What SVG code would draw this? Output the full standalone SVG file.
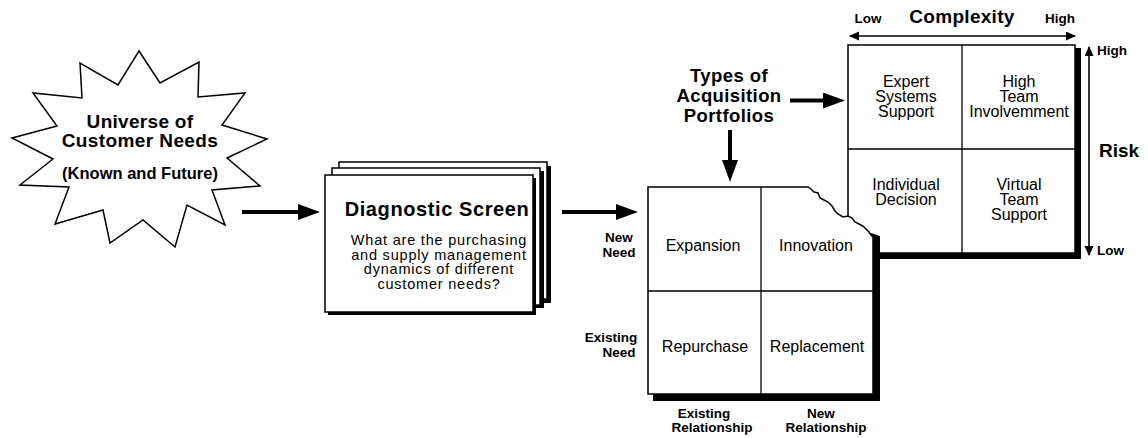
<svg xmlns="http://www.w3.org/2000/svg" width="1148" height="438" viewBox="0 0 1148 438">
<defs>
<style>
text{font-family:"Liberation Sans",Arial,Helvetica,sans-serif;fill:#000;text-anchor:middle}
.b{font-weight:bold}
.t19{font-size:19px;font-weight:bold}
.t14{font-size:13.5px;font-weight:bold}
.r16{font-size:16px}
.r15{font-size:14.5px;letter-spacing:0.8px}
.box{fill:#fff;stroke:#000;stroke-width:1.5}
.grid{stroke:#000;stroke-width:1.3;fill:none}
.shadow{fill:#000}
.thick{stroke:#000;stroke-width:4;fill:none}
.thin{stroke:#000;stroke-width:1.6;fill:none}
</style>
<marker id="ah" markerUnits="userSpaceOnUse" markerWidth="24" markerHeight="18" refX="0" refY="8" orient="auto">
<path d="M0,0 L22,8 L0,16 Z" fill="#000"/>
</marker>
<marker id="sh" markerUnits="userSpaceOnUse" markerWidth="12" markerHeight="10" refX="9" refY="4.5" orient="auto-start-reverse">
<path d="M0,0 L10,4.5 L0,9 Z" fill="#000"/>
</marker>
</defs>
<rect width="1148" height="438" fill="#fff"/>

<g id="universe">
<polygon class="box" points="139,51 160,83 199,62 198,97 245,93 222,125 267,139 227,158 260,186 212,190 225,225 187,205 175,247 143,220 110,243 103,210 55,224 69,187 20,185 53,159 12,138 57,126 33,93 82,98 80,63 118,85"/>
<text class="t19" x="140" y="128" letter-spacing="0.3">Universe of</text>
<text class="t19" x="140" y="147" letter-spacing="0.4">Customer Needs</text>
<text class="b" x="140" y="179" font-size="16.5">(Known and Future)</text>
</g>

<g id="diagnostic">
<rect class="shadow" x="343" y="166" width="208" height="137"/>
<rect class="box" x="339" y="162" width="208" height="137"/>
<rect class="shadow" x="336" y="171" width="208" height="137"/>
<rect class="box" x="332" y="168" width="208" height="137"/>
<rect class="shadow" x="328" y="178" width="208" height="137"/>
<rect class="box" x="325" y="175" width="208" height="137"/>
<text class="b" x="437" y="216" font-size="20" letter-spacing="0.6">Diagnostic Screen</text>
<text class="r15" x="439" y="245">What are the purchasing</text>
<text class="r15" x="439" y="259.5">and supply management</text>
<text class="r15" x="439" y="274">dynamics of different</text>
<text class="r15" x="439" y="288.5">customer needs?</text>
</g>

<g id="types-label">
<text class="b" x="729" y="82" font-size="18.5" letter-spacing="0.4">Types of</text>
<text class="b" x="729" y="102" font-size="18.5" letter-spacing="0.4">Acquisition</text>
<text class="b" x="729" y="122" font-size="18.5" letter-spacing="0.4">Portfolios</text>
</g>

<g id="team-matrix">
<path class="shadow" d="M1075,48 L1081,48 L1081,259 L873,259 L873,253 L1075,253 Z"/>
<rect class="box" x="848" y="45" width="227" height="208"/>
<line class="grid" x1="962" y1="45" x2="962" y2="253"/>
<line class="grid" x1="848" y1="149" x2="1075" y2="149"/>
<text class="r16" x="906" y="87">Expert</text>
<text class="r16" x="906" y="102">Systems</text>
<text class="r16" x="906" y="117">Support</text>
<text class="r16" x="1019" y="87">High</text>
<text class="r16" x="1019" y="102">Team</text>
<text class="r16" x="1019" y="117">Involvemment</text>
<text class="r16" x="906" y="190">Individual</text>
<text class="r16" x="906" y="205">Decision</text>
<text class="r16" x="1019" y="190">Virtual</text>
<text class="r16" x="1019" y="205">Team</text>
<text class="r16" x="1019" y="220">Support</text>
</g>

<g id="complexity-axis">
<text class="t14" x="868" y="23">Low</text>
<text class="b" x="962" y="23" font-size="19" letter-spacing="0.3">Complexity</text>
<text class="t14" x="1060" y="23">High</text>
</g>

<g id="risk-axis">
<text class="t14" x="1097" y="55" style="text-anchor:start">High</text>
<text class="b" x="1099" y="157" font-size="19" style="text-anchor:start">Risk</text>
<text class="t14" x="1097" y="255" style="text-anchor:start">Low</text>
</g>

<g id="portfolio-matrix">
<path class="shadow" d="M871,233 L880,236 L880,401 L653,401 L653,394 L873,394 Z"/>
<path class="box" d="M648,187 L808,187 L811,189 L814,192 L818,193 L820,198 L824,200 L828,202 L832,206 L835,211 L838,214 L843,217 L848,216 L852,218 L855,222 L859,224 L863,226 L866,229 L869,232 L871,235 L873,237 L873,394 L648,394 Z"/>
<line class="grid" x1="761" y1="187" x2="761" y2="394"/>
<line class="grid" x1="648" y1="291" x2="873" y2="291"/>
<text class="r16" x="703" y="251">Expansion</text>
<text class="r16" x="816" y="251">Innovation</text>
<text class="r16" x="705" y="352">Repurchase</text>
<text class="r16" x="817" y="352">Replacement</text>
<text class="t14" x="619" y="242">New</text>
<text class="t14" x="619" y="257">Need</text>
<text class="t14" x="611" y="342">Existing</text>
<text class="t14" x="619" y="357">Need</text>
<text class="t14" x="704" y="418">Existing</text>
<text class="t14" x="712" y="432">Relationship</text>
<text class="t14" x="821" y="418">New</text>
<text class="t14" x="826" y="432">Relationship</text>
</g>

<g id="connectors">
<line class="thick" x1="242" y1="212" x2="298" y2="212" marker-end="url(#ah)"/>
<line class="thick" x1="562" y1="212" x2="616" y2="212" marker-end="url(#ah)"/>
<line class="thick" x1="730" y1="130" x2="730" y2="160" marker-end="url(#ah)"/>
<line class="thick" x1="790" y1="100.5" x2="823" y2="100.5" marker-end="url(#ah)"/>
<line class="thin" x1="850" y1="36" x2="1075" y2="36" marker-start="url(#sh)" marker-end="url(#sh)"/>
<line class="thin" x1="1089" y1="47" x2="1089" y2="255" marker-start="url(#sh)" marker-end="url(#sh)"/>
</g>
</svg>
